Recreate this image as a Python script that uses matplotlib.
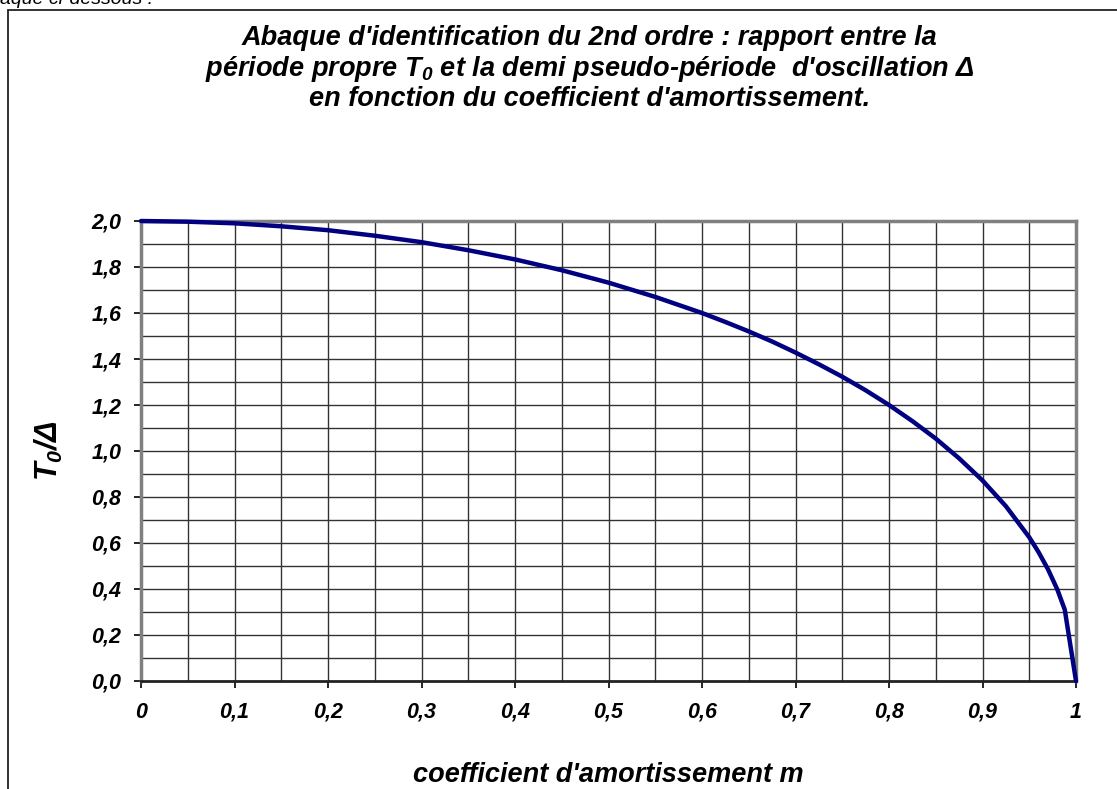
import matplotlib
matplotlib.use("Agg")
import matplotlib.pyplot as plt
from matplotlib.patches import Rectangle

plt.rcParams['font.family'] = ['Liberation Sans', 'DejaVu Sans']
plt.rcParams['font.weight'] = 'bold'
plt.rcParams['font.style'] = 'italic'
plt.rcParams['mathtext.fontset'] = 'custom'
plt.rcParams['mathtext.it'] = 'Liberation Sans:bold:italic'
plt.rcParams['mathtext.rm'] = 'Liberation Sans:bold:italic'
plt.rcParams['mathtext.bf'] = 'Liberation Sans:bold:italic'

# damping coefficient m and ratio T0 / half pseudo-period
m = [0.0, 0.05, 0.10, 0.15, 0.20, 0.25, 0.30, 0.35, 0.40, 0.45, 0.50,
     0.55, 0.60, 0.625, 0.65, 0.675, 0.70, 0.725, 0.75, 0.775, 0.80,
     0.825, 0.85, 0.875, 0.90, 0.925, 0.95, 0.96, 0.97, 0.98, 0.988, 1.0]
ratio = [2.000, 1.997, 1.990, 1.977, 1.960, 1.936, 1.908, 1.873, 1.833,
         1.786, 1.732, 1.670, 1.600, 1.561, 1.520, 1.476, 1.428, 1.377,
         1.323, 1.264, 1.200, 1.130, 1.054, 0.968, 0.872, 0.760, 0.625,
         0.560, 0.486, 0.398, 0.310, 0.0]

x_ticks = [0.0, 0.1, 0.2, 0.3, 0.4, 0.5, 0.6, 0.7, 0.8, 0.9, 1.0]
x_labels = ['0', '0,1', '0,2', '0,3', '0,4', '0,5', '0,6', '0,7', '0,8', '0,9', '1']
y_ticks = [0.0, 0.2, 0.4, 0.6, 0.8, 1.0, 1.2, 1.4, 1.6, 1.8, 2.0]
y_labels = ['0,0', '0,2', '0,4', '0,6', '0,8', '1,0', '1,2', '1,4', '1,6', '1,8', '2,0']

title = ("Abaque d'identification du 2nd ordre : rapport entre la\n"
         "période propre $T_0$ et la demi pseudo-période  d'oscillation Δ\n"
         "en fonction du coefficient d'amortissement.")

W, H = 1117, 789
fig = plt.figure(figsize=(W / 100, H / 100), dpi=100)

# outer chart frame (left and top edges visible)
fig.patches.append(Rectangle((8 / W, -0.1), 1.2, (H - 10) / H + 0.1,
                             transform=fig.transFigure, fill=False,
                             edgecolor='#222222', linewidth=1.3))
fig.text(0.0, 1.0, "aque ci-dessous :", fontsize=14, fontweight='normal',
         ha='left', va='center')

ax = fig.add_axes([141 / W, 1 - 681 / H, (1076 - 141) / W, (681 - 221) / H])
ax.set_xlim(0, 1)
ax.set_ylim(0, 2)

# grid every 0.05 on x and 0.1 on y
for xv in [i * 0.05 for i in range(1, 20)]:
    ax.axvline(xv, color='#333333', linewidth=1.0, zorder=1)
for yv in [i * 0.1 for i in range(1, 20)]:
    ax.axhline(yv, color='#333333', linewidth=1.0, zorder=1)

ax.plot(m, ratio, color='#000080', linewidth=3.2, solid_capstyle='round',
        solid_joinstyle='round', zorder=3, clip_on=False)

ax.set_xticks(x_ticks)
ax.set_xticklabels(x_labels, fontsize=15.5)
ax.set_yticks(y_ticks)
ax.set_yticklabels(y_labels, fontsize=15.5)
ax.tick_params(direction='out', length=5, width=1.2, color='black')
ax.tick_params(axis='x', pad=10)
ax.tick_params(axis='y', pad=9)

for side in ['left', 'right', 'top']:
    ax.spines[side].set_color('#808080')
    ax.spines[side].set_linewidth(2.5)
ax.spines['bottom'].set_color('#222222')
ax.spines['bottom'].set_linewidth(2.0)

ax.set_xlabel("coefficient d'amortissement m", fontsize=19.5, fontweight='bold',
              labelpad=28)
ax.set_ylabel("$T_0$/Δ", fontsize=22, fontweight='bold', labelpad=19)

fig.text(0.528, 0.968, title, fontsize=19.5, ha='center', va='top',
         linespacing=1.12)

fig.savefig("out.png", dpi=100)
